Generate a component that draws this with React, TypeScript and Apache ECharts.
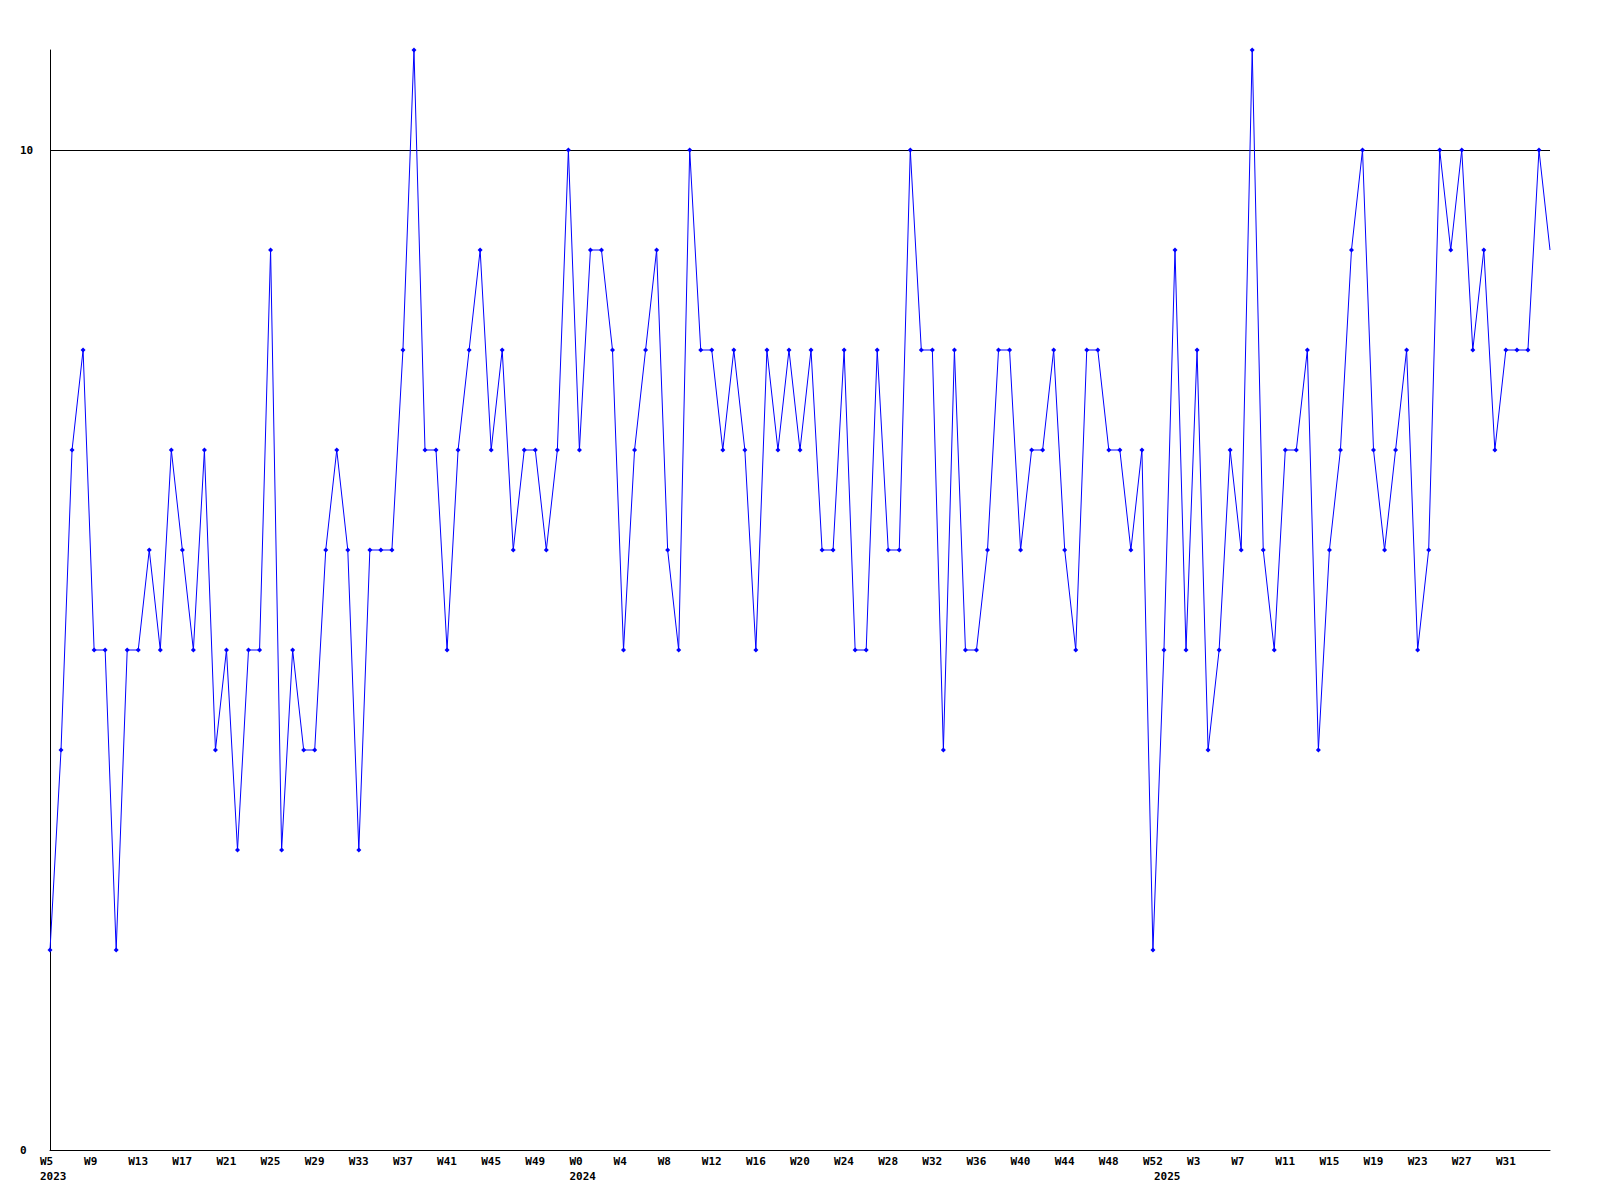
import React, { useEffect, useRef } from "react";
import * as echarts from "echarts";

// Weekly series: 2023 W5 … 2025 W35
const yearSegments = [
  { year: 2023, firstWeek: 5, lastWeek: 52 },
  { year: 2024, firstWeek: 0, lastWeek: 52 },
  { year: 2025, firstWeek: 0, lastWeek: 35 },
];

const values = [
  2, 4, 7, 8, 5, 5, 2, 5, 5, 6,
  5, 7, 6, 5, 7, 4, 5, 3, 5, 5,
  9, 3, 5, 4, 4, 6, 7, 6, 3, 6,
  6, 6, 8, 11, 7, 7, 5, 7, 8, 9,
  7, 8, 6, 7, 7, 6, 7, 10, 7, 9,
  9, 8, 5, 7, 8, 9, 6, 5, 10, 8,
  8, 7, 8, 7, 5, 8, 7, 8, 7, 8,
  6, 6, 8, 5, 5, 8, 6, 6, 10, 8,
  8, 4, 8, 5, 5, 6, 8, 8, 6, 7,
  7, 8, 6, 5, 8, 8, 7, 7, 6, 7,
  2, 5, 9, 5, 8, 4, 5, 7, 6, 11,
  6, 5, 7, 7, 8, 4, 6, 7, 9, 10,
  7, 6, 7, 8, 5, 6, 10, 9, 10, 8,
  9, 7, 8, 8, 8, 10, 9,
];

const yTickLabels = [0, 10];
const weekLabelStep = 4;

const categories: string[] = [];
const yearStartIndex: Record<number, string> = {};
yearSegments.forEach((s) => {
  yearStartIndex[categories.length] = String(s.year);
  for (let w = s.firstWeek; w <= s.lastWeek; w++) categories.push(`W${w}`);
});
const lastIndex = categories.length - 1;

const FONT = "DejaVu Sans Mono";

export default function App() {
  const ref = useRef<HTMLDivElement>(null);
  useEffect(() => {
    if (!ref.current) return;
    const chart = echarts.init(ref.current, undefined, { renderer: "svg" });
    const seriesData = values.map((v, i) =>
      i === lastIndex ? { value: v, symbol: "none" } : v
    );
    chart.setOption({
      animation: false,
      backgroundColor: "#ffffff",
      grid: { left: 50, right: 50, top: 50, bottom: 50, containLabel: false },
      xAxis: {
        type: "category",
        data: categories,
        boundaryGap: false,
        axisLine: { show: true, lineStyle: { color: "#000000", width: 1 } },
        axisTick: { show: false },
        splitLine: { show: false },
        axisLabel: {
          interval: (i: number) =>
            (i % weekLabelStep === 0 && i < lastIndex) || yearStartIndex[i] !== undefined,
          formatter: (val: string, i: number) => {
            const wk = i % weekLabelStep === 0 && i < lastIndex ? val : " ";
            const yr = yearStartIndex[i];
            return yr ? `{a|${wk}}\n{a|${yr}}` : `{a|${wk}}`;
          },
          align: "center",
          verticalAlign: "top",
          margin: 4,
          rich: {
            a: {
              width: 20,
              align: "left",
              fontFamily: FONT,
              fontWeight: "bold",
              fontSize: 11,
              lineHeight: 15,
              color: "#000000",
            },
          },
        },
      },
      yAxis: {
        type: "value",
        min: 0,
        max: 11,
        interval: 10,
        axisLine: { show: true, lineStyle: { color: "#000000", width: 1 } },
        axisTick: { show: false },
        axisLabel: {
          formatter: (v: number) => (yTickLabels.includes(v) ? String(v) : ""),
          align: "left",
          margin: 30,
          fontFamily: FONT,
          fontWeight: "bold",
          fontSize: 11,
          color: "#000000",
        },
        splitLine: {
          show: true,
          showMaxLine: false,
          lineStyle: { color: ["#000000", "#000000", "rgba(0,0,0,0)"], width: 1 },
        },
      },
      series: [
        {
          type: "line",
          data: seriesData,
          color: "#0000ff",
          lineStyle: { color: "#0000ff", width: 1 },
          itemStyle: { color: "#0000ff" },
          symbol: "diamond",
          symbolSize: [5, 5],
          showAllSymbol: true,
          emphasis: { disabled: true },
        },
      ],
    });
    return () => chart.dispose();
  }, []);
  return (
    <div
      ref={ref}
      style={{ position: "absolute", left: 0, top: 0, width: 1600, height: 1200 }}
    />
  );
}
